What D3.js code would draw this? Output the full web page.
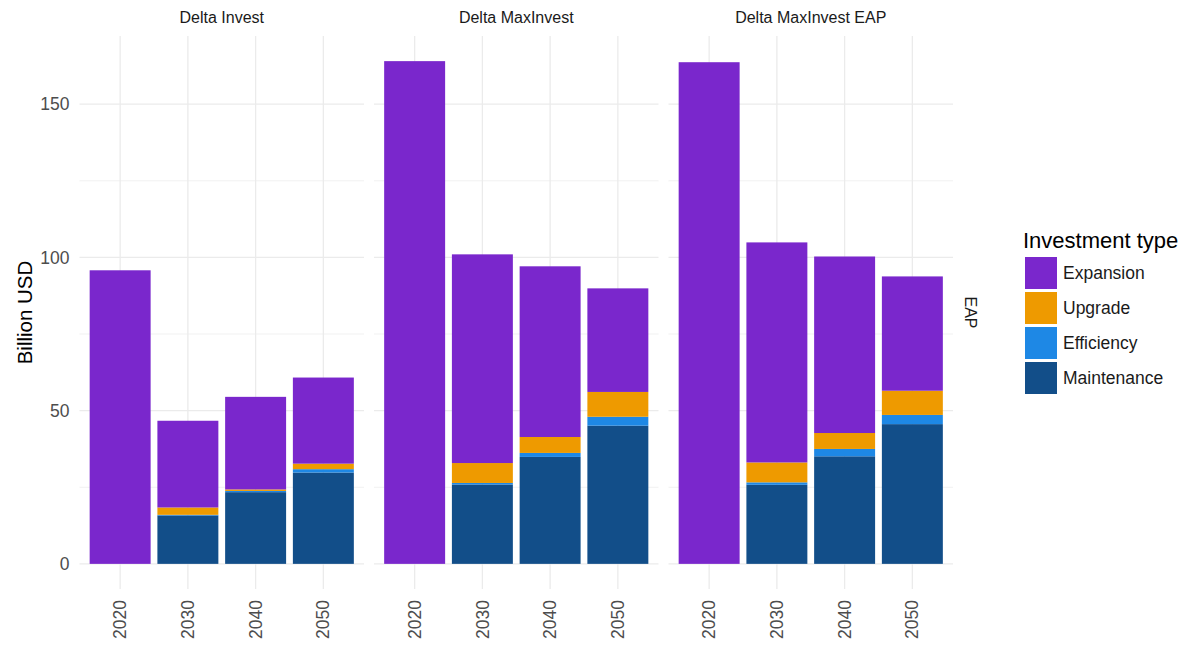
<!DOCTYPE html>
<html>
<head>
<meta charset="utf-8">
<script src="https://cdn.jsdelivr.net/npm/d3@7"></script>
<style>
  body { margin: 0; background: #fff; }
  text { font-family: "Liberation Sans", Arial, sans-serif; }
</style>
</head>
<body>
<div id="chart"></div>
<script>
// data (Billion USD)
let scenarios = ["Delta Invest", "Delta MaxInvest", "Delta MaxInvest EAP"];
let years = ["2020", "2030", "2040", "2050"];
let types = ["Expansion", "Upgrade", "Efficiency", "Maintenance"];
let colors = ["#7a27cc", "#ee9a00", "#1e88e5", "#124e89"];

let maintenance = [[0, 15.8, 23.4, 29.8], [0, 25.9, 34.9, 45.1], [0, 25.8, 35.1, 45.6]];
let efficiency  = [[0, 0.2, 0.4, 1.1],    [0, 0.5, 1.3, 2.9],    [0, 0.8, 2.4, 3.0]];
let upgrade     = [[0, 2.4, 0.5, 1.8],    [0, 6.5, 5.2, 8.1],    [0, 6.5, 5.2, 7.9]];
let expansion   = [[95.8, 28.3, 30.2, 28.1], [164.05, 68.1, 55.7, 33.8], [163.7, 71.8, 57.6, 37.3]];

let yTicks = [0, 50, 100, 150];
let yMinor = [25, 75, 125];

// size for svg container
let width = 1192;
let height = 645;

let svg = d3.select("#chart")
  .append("svg")
  .attr("width", width)
  .attr("height", height);

// panel geometry
let panelLeft = 79.5;
let panelWidth = 284.5;
let panelGap = 10;
let panelTop = 36;
let panelBottom = 589;

// build rows for stacking, bottom to top
let stackKeys = ["Maintenance", "Efficiency", "Upgrade", "Expansion"];
let colorScale = d3.scaleOrdinal().domain(types).range(colors);

let maxTotal = 0;
let panelRows = scenarios.map((s, i) => years.map((yr, j) => {
  let row = {
    year: yr,
    Maintenance: maintenance[i][j],
    Efficiency: efficiency[i][j],
    Upgrade: upgrade[i][j],
    Expansion: expansion[i][j]
  };
  maxTotal = Math.max(maxTotal, row.Maintenance + row.Efficiency + row.Upgrade + row.Expansion);
  return row;
}));

// ggplot style 5% expansion
let yScale = d3.scaleLinear()
  .domain([-maxTotal * 0.05, maxTotal * 1.05])
  .range([panelBottom, panelTop]);

let stack = d3.stack().keys(stackKeys);

scenarios.forEach((s, i) => {
  let x0 = panelLeft + i * (panelWidth + panelGap);
  let xScale = d3.scaleBand()
    .domain(years)
    .range([x0, x0 + panelWidth])
    .paddingInner(0.1)
    .paddingOuter(0.15);

  let g = svg.append("g");

  // gridlines
  g.selectAll(".minor")
    .data(yMinor).enter()
    .append("line")
    .attr("x1", x0).attr("x2", x0 + panelWidth)
    .attr("y1", d => yScale(d)).attr("y2", d => yScale(d))
    .attr("stroke", "#ebebeb").attr("stroke-width", 0.7);

  g.selectAll(".major")
    .data(yTicks).enter()
    .append("line")
    .attr("x1", x0).attr("x2", x0 + panelWidth)
    .attr("y1", d => yScale(d)).attr("y2", d => yScale(d))
    .attr("stroke", "#ebebeb").attr("stroke-width", 1.3);

  g.selectAll(".vgrid")
    .data(years).enter()
    .append("line")
    .attr("x1", d => xScale(d) + xScale.bandwidth() / 2)
    .attr("x2", d => xScale(d) + xScale.bandwidth() / 2)
    .attr("y1", panelTop).attr("y2", panelBottom)
    .attr("stroke", "#ebebeb").attr("stroke-width", 1.3);

  // stacked bars
  let series = stack(panelRows[i]);
  g.selectAll(".layer")
    .data(series).enter()
    .append("g")
    .attr("fill", d => colorScale(d.key))
    .selectAll("rect")
    .data(d => d).enter()
    .append("rect")
    .attr("x", d => xScale(d.data.year))
    .attr("width", xScale.bandwidth())
    .attr("y", d => yScale(d[1]))
    .attr("height", d => yScale(d[0]) - yScale(d[1]));

  // strip title
  svg.append("text")
    .attr("x", x0 + panelWidth / 2)
    .attr("y", 23)
    .attr("text-anchor", "middle")
    .attr("font-size", "16px")
    .attr("fill", "#1a1a1a")
    .text(s);

  // x axis
  let xAxis = svg.append("g")
    .attr("transform", `translate(0, ${panelBottom})`)
    .call(d3.axisBottom(xScale).tickSize(0));
  xAxis.select(".domain").remove();
  xAxis.selectAll("text")
    .attr("transform", "rotate(-90)")
    .attr("x", -11)
    .attr("y", 0)
    .attr("dy", "0.35em")
    .style("text-anchor", "end")
    .style("font-size", "17.5px")
    .style("font-family", "'Liberation Sans', Arial, sans-serif")
    .attr("fill", "#4d4d4d");
});

// y axis
let yAxis = svg.append("g")
  .attr("transform", `translate(${panelLeft}, 0)`)
  .call(d3.axisLeft(yScale).tickValues(yTicks).tickSize(0).tickPadding(10));
yAxis.select(".domain").remove();
yAxis.selectAll("text")
  .style("font-size", "17.5px")
  .style("font-family", "'Liberation Sans', Arial, sans-serif")
  .attr("fill", "#4d4d4d");

// y axis title
svg.append("text")
  .attr("transform", "rotate(-90)")
  .attr("x", -(panelTop + panelBottom) / 2)
  .attr("y", 32)
  .attr("text-anchor", "middle")
  .attr("font-size", "20.5px")
  .attr("fill", "#000")
  .text("Billion USD");

// right strip
svg.append("text")
  .attr("transform", `translate(965, ${(panelTop + panelBottom) / 2}) rotate(90)`)
  .attr("text-anchor", "middle")
  .attr("font-size", "16px")
  .attr("fill", "#1a1a1a")
  .text("EAP");

// legend
let legend = svg.append("g").attr("transform", "translate(1023, 0)");
legend.append("text")
  .attr("x", 0)
  .attr("y", 248)
  .attr("font-size", "22px")
  .attr("fill", "#000")
  .text("Investment type");

legend.selectAll("rect")
  .data(types).enter()
  .append("rect")
  .attr("x", 2)
  .attr("y", (d, i) => 257 + i * 35)
  .attr("width", 32)
  .attr("height", 32)
  .attr("fill", d => colorScale(d));

legend.selectAll(".lab")
  .data(types).enter()
  .append("text")
  .attr("x", 40)
  .attr("y", (d, i) => 273 + i * 35)
  .attr("dy", "0.35em")
  .attr("font-size", "17.5px")
  .attr("fill", "#1a1a1a")
  .text(d => d);
</script>
</body>
</html>
